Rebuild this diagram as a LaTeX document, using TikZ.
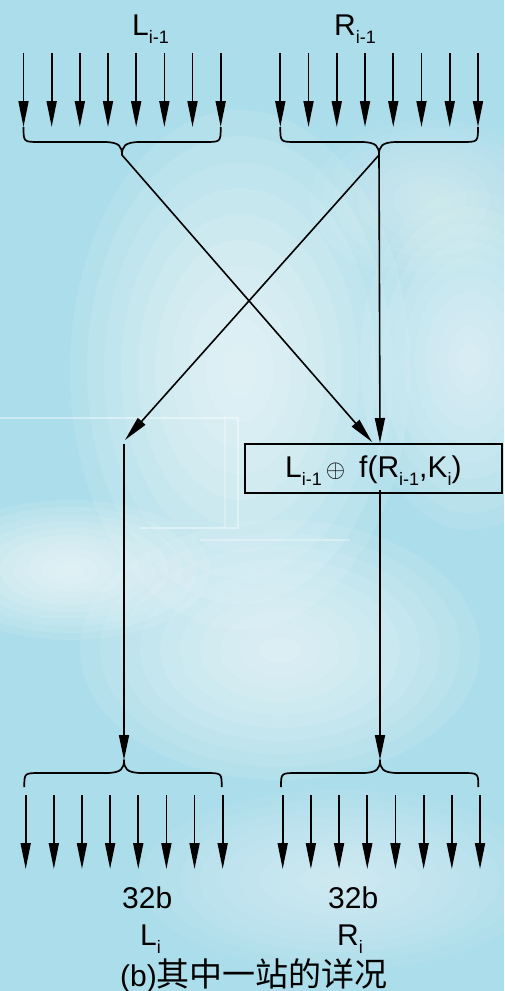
\documentclass[tikz,border=0pt]{standalone}
\usepackage{fontspec}
\setmainfont{Liberation Sans}
\newfontfamily\cjk{Noto Sans CJK SC}
\usetikzlibrary{arrows.meta}
\definecolor{bgblue}{RGB}{172,221,234}
\newcommand\sbs[1]{\raisebox{-8pt}{\fontsize{18}{18}\selectfont #1}}
\newcommand\glow[5]{\foreach \k in {1,...,10} {\fill[white, opacity=#5] (#1,#2) ellipse [x radius={#3*\k/10}, y radius={#4*\k/10}];}}
\begin{document}
\begin{tikzpicture}[x=1pt,y=-1pt,
  bit/.style={line width=1.7pt, -{Triangle[length=26pt,width=10pt]}},
  flow/.style={line width=1.6pt, -{Triangle[length=25pt,width=10pt]}},
  bracestyle/.style={line width=1.7pt, line join=round},
  lbl/.style={inner sep=0pt, anchor=base west, font=\fontsize{30}{30}\selectfont},
  bgline/.style={white, opacity=0.4, line width=1.5pt},
]
\useasboundingbox (0,0) rectangle (504,991);
\begin{scope}
\clip (0,0) rectangle (504,991);
\fill[bgblue] (0,0) rectangle (504,991);
\glow{240}{370}{170}{260}{0.10}
\glow{470}{360}{110}{170}{0.08}
\glow{70}{570}{140}{70}{0.10}
\glow{280}{650}{200}{130}{0.09}
\glow{340}{880}{200}{90}{0.06}
\glow{430}{200}{120}{80}{0.05}
\draw[bgline] (0,418) -- (238,418) -- (238,528) -- (140,528);
\draw[bgline, opacity=0.3] (200,540) -- (350,540);
\draw[bgline, opacity=0.25] (225,415) -- (225,528);
\end{scope}

% top labels
\node[lbl] (lprev) at (132,35) {L\sbs{i-1}};
\node[lbl] (rprev) at (334,35) {R\sbs{i-1}};

% top input bits
\foreach \i in {0,...,7} {
  \coordinate (tls\i) at ({23.5+28.17*\i},53);
  \coordinate (tle\i) at ({23.5+28.17*\i},127);
  \draw[bit] (tls\i) -- (tle\i);
  \coordinate (trs\i) at ({280.3+28.24*\i},53);
  \coordinate (tre\i) at ({280.3+28.24*\i},127);
  \draw[bit] (trs\i) -- (tre\i);
}

% top braces
\coordinate (ltip) at (122,155);
\coordinate (rtip) at (379,155);
\draw[bracestyle] (23.5,127) .. controls (23.5,142) .. (39.5,142) -- (104,142)
  .. controls (120,142) and (122,147) .. (ltip)
  .. controls (122,147) and (124,142) .. (140,142) -- (204.7,142)
  .. controls (220.7,142) .. (220.7,127);
\draw[bracestyle] (280.3,127) .. controls (280.3,142) .. (296.3,142) -- (361,142)
  .. controls (377,142) and (379,147) .. (rtip)
  .. controls (379,147) and (381,142) .. (397,142) -- (462,142)
  .. controls (478,142) .. (478,127);

% function box
\node[draw, line width=1.5pt, minimum width=257pt, minimum height=49pt, inner sep=0pt] (box) at (373.5,468.5) {};
\node[lbl] (boxtext) at (285,477) {L\sbs{i-1}\hspace{4pt}{\fontsize{29}{29}\selectfont$\oplus$}\hspace{14pt}f(R\sbs{i-1},K\sbs{i})};

% crossing connectors
\coordinate (xin) at (372,442);
\coordinate (rin) at (380,443);
\coordinate (lin) at (125,440);
\coordinate (lstart) at (124,444);
\coordinate (bout) at (380,490);
\draw[flow] (ltip) -- (xin);
\draw[flow] (rtip) -- (lin);
\draw[flow] (rtip) -- (rin);

% bottom braces
\coordinate (bltip) at (124,760);
\coordinate (brtip) at (380,760);
\draw[flow] (lstart) -- (bltip);
\draw[flow] (bout) -- (brtip);
\draw[bracestyle] (24.3,787) .. controls (24.3,773) .. (40.3,773) -- (106,773)
  .. controls (122,773) and (124,768) .. (bltip)
  .. controls (124,768) and (126,773) .. (142,773) -- (205.7,773)
  .. controls (221.7,773) .. (221.7,787);
\draw[bracestyle] (281,787) .. controls (281,773) .. (297,773) -- (362,773)
  .. controls (378,773) and (380,768) .. (brtip)
  .. controls (380,768) and (382,773) .. (398,773) -- (462.3,773)
  .. controls (478.3,773) .. (478.3,787);

% bottom output bits
\foreach \i in {0,...,7} {
  \coordinate (bls\i) at ({25.7+28.14*\i},795);
  \coordinate (ble\i) at ({25.7+28.14*\i},869);
  \draw[bit] (bls\i) -- (ble\i);
  \coordinate (brs\i) at ({282.7+28.19*\i},795);
  \coordinate (bre\i) at ({282.7+28.19*\i},869);
  \draw[bit] (brs\i) -- (bre\i);
}

% bottom labels
\node[lbl] (lsize) at (122,908) {32b};
\node[lbl] (rsize) at (328,908) {32b};
\node[lbl] (lnew) at (140,945) {L\sbs{i}};
\node[lbl] (rnew) at (337,945) {R\sbs{i}};
\node[lbl] (caption) at (120,986) {{\fontsize{30}{30}\selectfont (b)}{\cjk\fontsize{33}{33}\selectfont 其中一站的详况}};
\end{tikzpicture}
\end{document}
